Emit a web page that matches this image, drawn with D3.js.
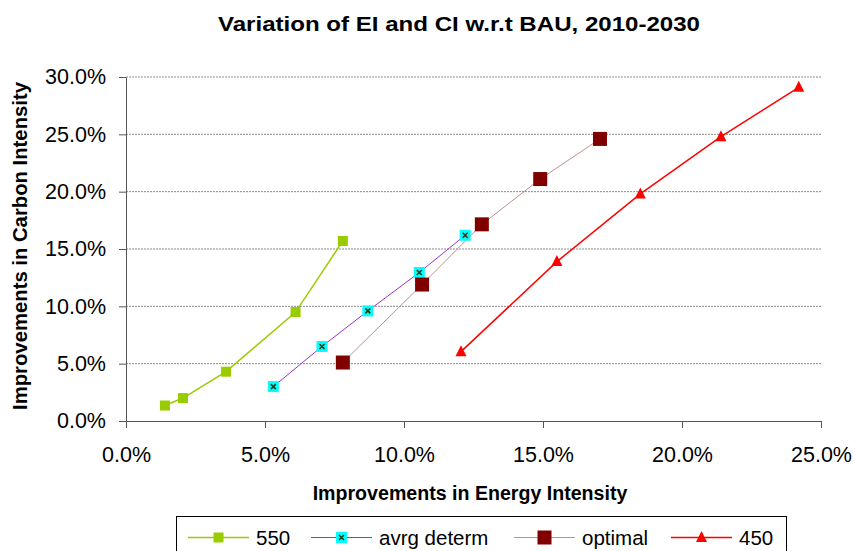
<!DOCTYPE html>
<html>
<head>
<meta charset="utf-8">
<script src="https://cdn.jsdelivr.net/npm/d3@7"></script>
<style>
  body { margin: 0; background: #fff; }
  text { font-family: "Liberation Sans", Arial, sans-serif; }
</style>
</head>
<body>
<svg id="chart" width="855" height="551"></svg>
<script>
// values in percent
const seriesNames = ["550", "avrg determ", "optimal", "450"];
const ei550 = [1.4, 2.05, 3.6, 6.1, 7.8];
const ci550 = [1.35, 2.0, 4.3, 9.5, 15.7];
const eiAvrg = [5.3, 7.05, 8.7, 10.55, 12.2];
const ciAvrg = [3.0, 6.5, 9.6, 12.95, 16.2];
const eiOptimal = [7.8, 10.65, 12.8, 14.9, 17.05];
const ciOptimal = [5.1, 11.9, 17.15, 21.1, 24.6];
const ei450 = [12.05, 15.5, 18.5, 21.4, 24.2];
const ci450 = [6.05, 13.9, 19.8, 24.8, 29.1];
const xTicks = [0, 5, 10, 15, 20, 25];
const yTicks = [0, 5, 10, 15, 20, 25, 30];

const series = [
  { name: seriesNames[0], xs: ei550, ys: ci550, line: "#99cc00", width: 1.5, marker: "square", fill: "#99cc00", size: 10 },
  { name: seriesNames[1], xs: eiAvrg, ys: ciAvrg, line: "#9933cc", width: 1, marker: "xsquare", fill: "#00ffff", size: 11 },
  { name: seriesNames[2], xs: eiOptimal, ys: ciOptimal, line: "#c09090", width: 1, marker: "square", fill: "#800000", size: 14 },
  { name: seriesNames[3], xs: ei450, ys: ci450, line: "#ff0000", width: 1.5, marker: "triangle", fill: "#ff0000", size: 11 },
];

const svg = d3.select("#chart");
const margin = { top: 77, right: 34, bottom: 130, left: 126 };
const w = 855 - margin.left - margin.right,
  h = 551 - margin.top - margin.bottom;

const x = d3.scaleLinear().domain([0, 25]).range([margin.left, margin.left + w]);
const y = d3.scaleLinear().domain([0, 30]).range([margin.top + h, margin.top]);

// title
svg.append("text")
  .attr("x", 459).attr("y", 31)
  .attr("text-anchor", "middle")
  .attr("textLength", 482)
  .attr("lengthAdjust", "spacingAndGlyphs")
  .style("font-size", "20px").style("font-weight", "bold")
  .text("Variation of EI and CI w.r.t BAU, 2010-2030");

// gridlines
svg.append("g")
  .selectAll("line")
  .data(yTicks.slice(1))
  .enter()
  .append("line")
  .attr("x1", x(0)).attr("x2", x(25))
  .attr("y1", (d) => y(d)).attr("y2", (d) => y(d))
  .attr("stroke", "#8a8a8a")
  .attr("stroke-width", 1)
  .attr("stroke-dasharray", "2,1");

// axes
const fmt = (d) => d.toFixed(1) + "%";
const gX = svg.append("g")
  .attr("transform", "translate(0," + y(0) + ")")
  .call(d3.axisBottom(x).tickValues(xTicks).tickFormat(fmt).tickSize(7).tickSizeOuter(0));
const gY = svg.append("g")
  .attr("transform", "translate(" + x(0) + ",0)")
  .call(d3.axisLeft(y).tickValues(yTicks).tickFormat(fmt).tickSize(7).tickSizeOuter(0));

[gX, gY].forEach((g) => {
  g.select(".domain").attr("stroke", "#555");
  g.selectAll(".tick line").attr("stroke", "#555");
  g.selectAll(".tick text")
    .style("font-size", "21.5px")
    .style("font-family", "'Liberation Sans', Arial, sans-serif")
    .attr("fill", "#000");
});
gX.selectAll(".tick text").attr("y", 41).attr("dy", 0);
gY.selectAll(".tick text").attr("x", -20);

// axis titles
svg.append("text")
  .attr("x", 470).attr("y", 500)
  .attr("text-anchor", "middle")
  .style("font-size", "19.6px").style("font-weight", "bold")
  .text("Improvements in Energy Intensity");
svg.append("text")
  .attr("transform", "translate(27,246) rotate(-90)")
  .attr("text-anchor", "middle")
  .style("font-size", "20.3px").style("font-weight", "bold")
  .text("Improvements in Carbon Intensity");

function drawMarker(g, s, cx, cy) {
  const r = s.size / 2;
  if (s.marker === "triangle") {
    g.append("path")
      .attr("d", `M${cx},${cy - r - 1}L${cx + r},${cy + r - 1}L${cx - r},${cy + r - 1}Z`)
      .attr("fill", s.fill);
  } else {
    g.append("rect")
      .attr("x", cx - r).attr("y", cy - r)
      .attr("width", s.size).attr("height", s.size)
      .attr("fill", s.fill);
    if (s.marker === "xsquare") {
      g.append("path")
        .attr("d", `M${cx - 2.5},${cy - 2.5}L${cx + 2.5},${cy + 2.5}M${cx + 2.5},${cy - 2.5}L${cx - 2.5},${cy + 2.5}`)
        .attr("stroke", "#1a3a1a").attr("stroke-width", 1.6);
    }
  }
}

// series
const line = d3.line().x((d) => x(d[0])).y((d) => y(d[1]));
series.forEach((s) => {
  const pts = s.xs.map((v, i) => [v, s.ys[i]]);
  const g = svg.append("g");
  g.append("path")
    .datum(pts)
    .attr("d", line)
    .attr("fill", "none")
    .attr("stroke", s.line)
    .attr("stroke-width", s.width);
  pts.forEach((p) => drawMarker(g, s, x(p[0]), y(p[1])));
});

// legend
const legend = svg.append("g");
legend.append("rect")
  .attr("x", 176.5).attr("y", 516.5)
  .attr("width", 610).attr("height", 50)
  .attr("fill", "#fff").attr("stroke", "#000");
const legendX = [188, 311, 514, 671];
series.forEach((s, i) => {
  const lx = legendX[i], ly = 537.5;
  legend.append("line")
    .attr("x1", lx).attr("x2", lx + 61)
    .attr("y1", ly).attr("y2", ly)
    .attr("stroke", s.line).attr("stroke-width", s.width);
  drawMarker(legend, s, lx + 30.5, ly);
  legend.append("text")
    .attr("x", lx + 68).attr("y", ly + 7.5)
    .style("font-size", "20.5px")
    .text(s.name);
});
</script>
</body>
</html>
